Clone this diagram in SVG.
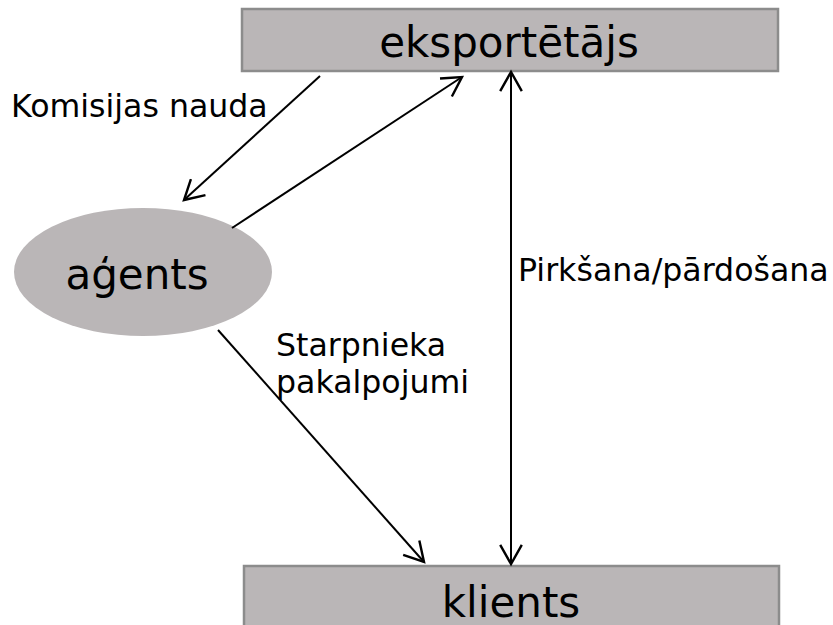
<svg xmlns="http://www.w3.org/2000/svg" width="833" height="625" viewBox="0 0 833 625">
<style>
.box{fill:#bab6b7;stroke:#8c8c8c;stroke-width:2.5}
.ell{fill:#bab6b7;stroke:none}
.node{font-family:"DejaVu Sans",Verdana,sans-serif;font-size:42px;fill:#000;text-anchor:middle}
.lbl{font-family:"DejaVu Sans",Verdana,sans-serif;font-size:31.6px;fill:#000}
.con{stroke:#000;stroke-width:2;fill:none}
</style>
<defs>
<marker id="arr" markerUnits="userSpaceOnUse" markerWidth="24" markerHeight="24" refX="17" refY="10" orient="auto-start-reverse" viewBox="0 0 20 20">
<path d="M1,1 L17,10 L1,19" fill="none" stroke="#000" stroke-width="2"/>
</marker>
</defs>
<rect width="833" height="625" fill="#fff"/>
<g id="exporter">
<rect class="box" x="242" y="9" width="536" height="62"/>
<text class="node" x="509" y="57">eksportētājs</text>
</g>
<g id="agent">
<ellipse class="ell" cx="143" cy="272" rx="129" ry="64"/>
<text class="node" x="137" y="289">aģents</text>
</g>
<g id="client">
<rect class="box" x="244" y="566" width="535" height="70"/>
<text class="node" x="511" y="617">klients</text>
</g>
<g id="connectors">
<line class="con" x1="320" y1="76" x2="184" y2="200" marker-end="url(#arr)"/>
<line class="con" x1="232" y1="228" x2="462" y2="77" marker-end="url(#arr)"/>
<line class="con" x1="511" y1="72" x2="511" y2="564" marker-start="url(#arr)" marker-end="url(#arr)"/>
<line class="con" x1="218" y1="330" x2="424" y2="562" marker-end="url(#arr)"/>
</g>
<g id="labels">
<text class="lbl" x="11" y="117">Komisijas nauda</text>
<text class="lbl" x="518" y="281">Pirkšana/pārdošana</text>
<text class="lbl" x="276" y="356">Starpnieka</text>
<text class="lbl" x="276" y="393">pakalpojumi</text>
</g>
</svg>
